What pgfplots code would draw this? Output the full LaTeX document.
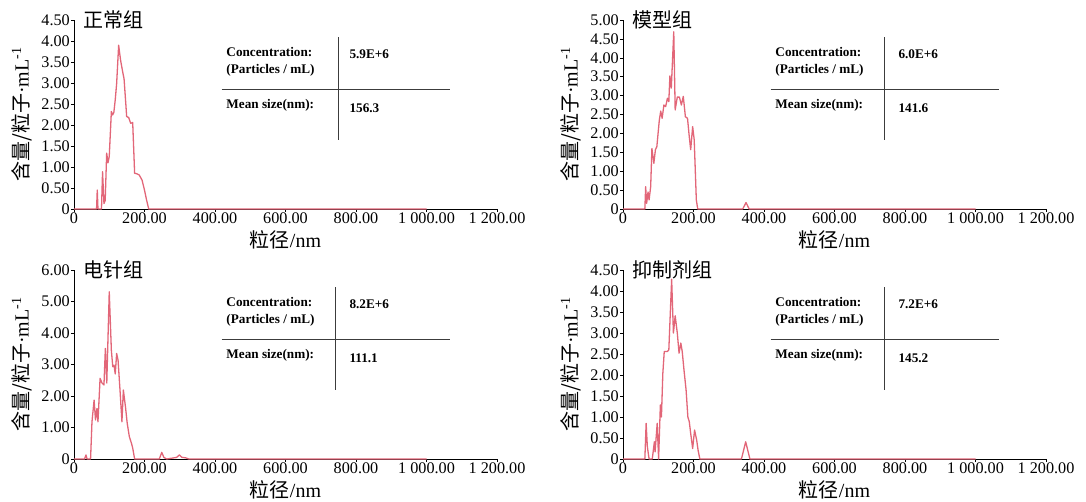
\documentclass[border=0pt]{standalone}
\usepackage{fontspec}
\setmainfont{Liberation Serif}
\newfontfamily\cjk{Noto Sans CJK SC}
\usepackage{pgfplots}
\pgfplotsset{compat=1.18}

\definecolor{curve}{RGB}{226,102,120}
\definecolor{tabline}{RGB}{60,60,60}

\newcommand{\tabfont}{\fontsize{13.2}{15}\selectfont\bfseries}
\newcommand{\infotable}[3]{%
  \draw[tabline, line width=0.9pt] (rel axis cs:#1,0.910) -- (rel axis cs:#1,0.365);
  \draw[tabline, line width=0.9pt] (rel axis cs:0.349,0.635) -- (rel axis cs:0.89,0.635);
  \node[anchor=west, font=\tabfont, inner sep=0pt] at (rel axis cs:0.36,0.831) {Concentration:};
  \node[anchor=west, font=\tabfont, inner sep=0pt] at (rel axis cs:0.36,0.735) {(Particles / mL)};
  \node[anchor=west, font=\tabfont, inner sep=0pt] at (rel axis cs:0.36,0.548) {Mean size(nm):};
  \node[anchor=west, font=\tabfont, inner sep=0pt] at (rel axis cs:0.651,0.818) {#2};
  \node[anchor=west, font=\tabfont, inner sep=0pt] at (rel axis cs:0.651,0.532) {#3};
}

\pgfplotsset{
  panel/.style={
    scale only axis, width=423pt, height=189pt,
    anchor=south west,
    axis x line*=bottom, axis y line*=left,
    xmin=0, xmax=1200, ymin=0,
    enlargelimits=false, clip=false,
    xtick={0,200,400,600,800,1000,1200},
    xticklabels={0,200.00,400.00,600.00,800.00,1\ 000.00,1\ 200.00},
    tick align=outside, major tick length=3pt,
    tick style={black, line width=0.6pt},
    axis line style={black, line width=0.9pt},
    tick label style={font=\fontsize{16.2}{19}\selectfont, inner sep=1pt},
    xlabel={{\cjk 粒径}/nm},
    ylabel={{\cjk 含量/粒子}·mL\textsuperscript{-1}},
    every axis y label/.style={at={(axis description cs:-0.123,0.5)}, rotate=90, anchor=center, font=\fontsize{20}{24}\selectfont},
    every axis x label/.style={at={(axis description cs:0.5,-0.164)}, anchor=center, font=\fontsize{20}{24}\selectfont},
  },
  curveplot/.style={curve, line width=1.3pt, no markers, line join=round},
}

\begin{document}
\begin{tikzpicture}
% ---------- 正常组 ----------
\begin{axis}[panel, at={(74pt,292pt)}, ymax=4.5,
  ytick={0,0.5,1,1.5,2,2.5,3,3.5,4,4.5},
  yticklabels={0,0.50,1.00,1.50,2.00,2.50,3.00,3.50,4.00,4.50}]
\addplot[curveplot] coordinates {
(0,0)(64,0)(66,0.45)(68,0)(78,0)(81,0.89)(85,0.13)(88.5,0.2)(92.7,1.33)(96.5,1.1)(100,1.25)
(106,2.32)(109.5,2.24)(113,2.3)(117,2.6)(121,2.99)(126.7,3.9)(132,3.55)(138,3.27)(142,3.1)
(147.5,2.44)(149.4,2.2)(155,2.18)(160.8,2.04)(166.5,2.06)(172,0.85)(178,0.84)(185,0.81)
(193,0.69)(200,0.45)(206,0.21)(212,0)(1000,0)};
\infotable{0.624}{5.9E+6}{156.3}
\node[anchor=west, font=\fontsize{20}{24}\selectfont\cjk, inner sep=0pt] at (rel axis cs:0,1) [xshift=9pt] {正常组};
\end{axis}
% ---------- 模型组 ----------
\begin{axis}[panel, at={(623pt,292pt)}, ymax=5,
  ytick={0,0.5,1,1.5,2,2.5,3,3.5,4,4.5,5},
  yticklabels={0,0.50,1.00,1.50,2.00,2.50,3.00,3.50,4.00,4.50,5.00}]
\addplot[curveplot] coordinates {
(0,0)(62,0)(64.3,0.59)(67,0.15)(71,0.45)(74,0.24)(78.5,0.59)(82,1.6)(87.5,1.21)(92,1.57)
(96,1.65)(103,2.35)(107,2.59)(111,2.4)(116,2.75)(121,2.71)(126,2.93)(130,2.84)(133,3.52)
(137,3.2)(144,4.69)(148,2.62)(154,2.96)(160,2.96)(165.6,2.75)(171,2.98)(177,2.44)(183,2.4)
(188,1.91)(192,1.57)(197.6,2.18)(202,1.83)(208,0.24)(212,0)(339.6,0)(349,0.17)(358,0)(1000,0)};
\infotable{0.619}{6.0E+6}{141.6}
\node[anchor=west, font=\fontsize{20}{24}\selectfont\cjk, inner sep=0pt] at (rel axis cs:0,1) [xshift=9pt] {模型组};
\end{axis}
% ---------- 电针组 ----------
\begin{axis}[panel, at={(74pt,42pt)}, ymax=6,
  ytick={0,1,2,3,4,5,6},
  yticklabels={0,1.00,2.00,3.00,4.00,5.00,6.00}]
\addplot[curveplot] coordinates {
(0,0)(30,0)(34,0.13)(37,0)(47,0)(51,1.18)(57,1.87)(61,1.24)(65,1.6)(68,1.18)(74,2.56)
(79.5,2.41)(85,2.35)(89,3.51)(93,2.41)(100,5.31)(106,3.45)(110,2.93)(113.5,2.98)(117,2.7)
(121,3.35)(125,3.14)(130.5,2.19)(136,1.18)(140,2.19)(146,1.66)(151,1.13)(157,0.71)(163,0.5)
(166.5,0.35)(172,0)(242,0)(249,0.21)(255,0.05)(263,0)(291,0.05)(299,0.13)(306.5,0.05)
(316,0.04)(326,0)(1000,0)};
\infotable{0.617}{8.2E+6}{111.1}
\node[anchor=west, font=\fontsize{20}{24}\selectfont\cjk, inner sep=0pt] at (rel axis cs:0,1) [xshift=9pt] {电针组};
\end{axis}
% ---------- 抑制剂组 ----------
\begin{axis}[panel, at={(623pt,42pt)}, ymax=4.5,
  ytick={0,0.5,1,1.5,2,2.5,3,3.5,4,4.5},
  yticklabels={0,0.50,1.00,1.50,2.00,2.50,3.00,3.50,4.00,4.50}]
\addplot[curveplot] coordinates {
(0,0)(62,0)(65.6,0.85)(69,0.3)(74,0)(83,0)(89,0.41)(91,0.17)(97,0.85)(101,0)(106,1.29)
(109,1.0)(113,2.04)(117,2.56)(126,2.56)(130,2.6)(133,3.23)(138,4.28)(143,3.0)(148,3.41)
(154,3.0)(159,2.52)(164,2.76)(168,2.56)(173,2.12)(179,1.64)(184,1.0)(188,0.89)(192,0.61)
(197.6,0.25)(203,0.69)(209,0.45)(213,0.21)(218,0)(336,0)(348,0.41)(360,0)(1000,0)};
\infotable{0.617}{7.2E+6}{145.2}
\node[anchor=west, font=\fontsize{20}{24}\selectfont\cjk, inner sep=0pt] at (rel axis cs:0,1) [xshift=9pt] {抑制剂组};
\end{axis}
\pgfresetboundingbox
\path (0pt,0pt) rectangle (1086pt,501pt);
\end{tikzpicture}
\end{document}
